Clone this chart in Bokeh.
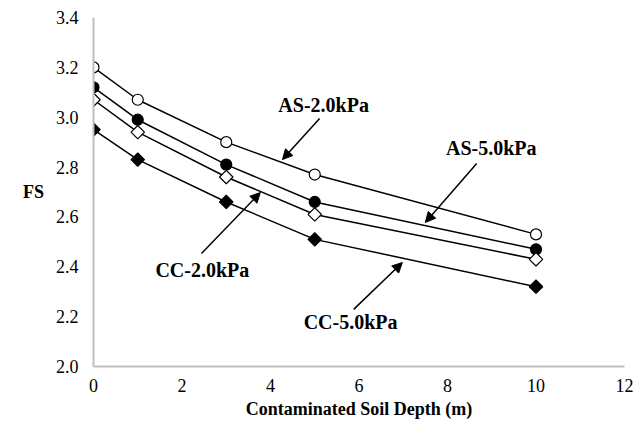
from bokeh.plotting import figure
from bokeh.models import FixedTicker, Arrow, NormalHead, ColumnDataSource
from bokeh.core.properties import value
from bokeh.embed import file_html
from bokeh.resources import INLINE
import math

# Data
depth = [0, 1, 3, 5, 10]
as_2 = [3.20, 3.07, 2.90, 2.77, 2.53]
as_5 = [3.12, 2.99, 2.81, 2.66, 2.47]
cc_2 = [3.07, 2.94, 2.76, 2.61, 2.43]
cc_5 = [2.95, 2.83, 2.66, 2.51, 2.32]

x_ticks = [0, 2, 4, 6, 8, 10, 12]
y_ticks = [2.0, 2.2, 2.4, 2.6, 2.8, 3.0, 3.2, 3.4]
y_tick_labels = ["2.0", "2.2", "2.4", "2.6", "2.8", "3.0", "3.2", "3.4"]

labels = ["AS-2.0kPa", "AS-5.0kPa", "CC-2.0kPa", "CC-5.0kPa"]
label_x = [5.20, 8.99, 2.46, 5.81]
label_y = [3.051, 2.875, 2.389, 2.177]
arrow_x0 = [5.11, 8.66, 2.44, 5.88]
arrow_y0 = [2.995, 2.814, 2.453, 2.229]
arrow_x1 = [4.27, 7.50, 3.77, 6.98]
arrow_y1 = [2.830, 2.578, 2.698, 2.417]

SERIF = "Liberation Serif"

p = figure(width=644, height=425, output_backend="svg", toolbar_location=None,
           x_range=(0, 12), y_range=(2.0, 3.4),
           min_border_left=93, min_border_right=20, min_border_top=17, min_border_bottom=59)
p.outline_line_color = None
p.xgrid.visible = False
p.ygrid.visible = False

for ax in (p.xaxis[0], p.yaxis[0]):
    ax.axis_line_color = "#bfbfbf"
    ax.axis_line_width = 2
    ax.major_tick_line_color = None
    ax.minor_tick_line_color = None
    ax.major_tick_out = 0
    ax.major_tick_in = 0
    ax.major_label_text_font = SERIF
    ax.major_label_text_font_size = "18px"
    ax.major_label_text_color = "black"
    ax.axis_label_text_font = SERIF
    ax.axis_label_text_font_size = "18px"
    ax.axis_label_text_font_style = "bold"
    ax.axis_label_text_color = "black"

p.xaxis[0].ticker = FixedTicker(ticks=x_ticks)
p.yaxis[0].ticker = FixedTicker(ticks=y_ticks)
p.yaxis[0].major_label_overrides = {t: s for t, s in zip(y_ticks, y_tick_labels)}
p.xaxis[0].major_label_standoff = 12
p.yaxis[0].major_label_standoff = 15
p.xaxis[0].axis_label = "Contaminated Soil Depth (m)"
p.xaxis[0].axis_label_standoff = 4
p.yaxis[0].axis_label = "FS"
p.yaxis[0].axis_label_orientation = "horizontal"
p.yaxis[0].axis_label_standoff = 9

lw = 1.5
p.line(depth, as_2, line_color="black", line_width=lw)
p.line(depth, as_5, line_color="black", line_width=lw)
p.line(depth, cc_2, line_color="black", line_width=lw)
p.line(depth, cc_5, line_color="black", line_width=lw)

p.scatter(depth, as_2, marker="circle", size=11, fill_color="white", line_color="black", line_width=1.2)
p.scatter(depth, as_5, marker="circle", size=11, fill_color="black", line_color="black", line_width=1.2)
p.scatter(depth, cc_2, marker="square", size=9.5, angle=math.pi / 4, fill_color="white", line_color="black", line_width=1.2)
p.scatter(depth, cc_5, marker="square", size=9.5, angle=math.pi / 4, fill_color="black", line_color="black", line_width=1.2)

for lx, ly, lt in zip(label_x, label_y, labels):
    p.text(x=[lx], y=[ly], text=[lt], text_font=value(SERIF), text_font_size="20px",
           text_font_style="bold", text_align="center", text_baseline="middle", text_color="black")

for x0, y0, x1, y1 in zip(arrow_x0, arrow_y0, arrow_x1, arrow_y1):
    p.add_layout(Arrow(x_start=x0, y_start=y0, x_end=x1, y_end=y1, line_width=1.5, line_color="black",
                       end=NormalHead(size=10, fill_color="black", line_color="black", line_width=1)))

open("out.html", "w").write(file_html(p, INLINE))
